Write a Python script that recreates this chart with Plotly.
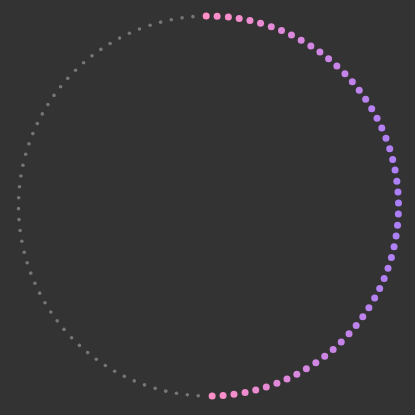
import plotly.graph_objects as go

# Angular positions (degrees, clockwise from top)
filled_theta = [-0.7, 2.6, 6.0, 9.3, 12.6, 15.9, 19.3, 22.6, 25.9, 29.2,
                32.6, 35.9, 39.2, 42.5, 45.9, 49.2, 52.5, 55.8, 59.2, 62.5,
                65.8, 69.1, 72.5, 75.8, 79.1, 82.5, 85.8, 89.1, 92.4, 95.8,
                99.1, 102.4, 105.7, 109.1, 112.4, 115.7, 119.0, 122.4, 125.7, 129.0,
                132.3, 135.7, 139.0, 142.3, 145.6, 149.0, 152.3, 155.6, 158.9, 162.3,
                165.6, 168.9, 172.3, 175.6, 178.9]
empty_theta = [183.1, 186.4, 189.7, 193.0, 196.3, 199.7, 203.0, 206.3, 209.6, 212.9,
               216.2, 219.5, 222.8, 226.1, 229.5, 232.8, 236.1, 239.4, 242.7, 246.0,
               249.3, 252.6, 255.9, 259.3, 262.6, 265.9, 269.2, 272.5, 275.8, 279.1,
               282.4, 285.8, 289.1, 292.4, 295.7, 299.0, 302.3, 305.6, 308.9, 312.2,
               315.6, 318.9, 322.2, 325.5, 328.8, 332.1, 335.4, 338.7, 342.1, 345.4,
               348.7, 352.0, 355.3]
filled_r = [1] * len(filled_theta)
empty_r = [1] * len(empty_theta)

PINK = "#ff8fc6"
PURPLE = "#ab7ff7"
GRAY = "#767676"
BG = "#333333"

colorscale = [[0, PINK], [1 / 6, "#d587df"], [1 / 3, "#b681f1"], [0.5, PURPLE],
              [2 / 3, "#b681f1"], [5 / 6, "#d587df"], [1, PINK]]

fig = go.Figure()
fig.add_trace(go.Scatterpolar(
    r=empty_r, theta=empty_theta, mode="markers", cliponaxis=False,
    marker=dict(size=3.6, color=GRAY), hoverinfo="skip", showlegend=False))
fig.add_trace(go.Scatterpolar(
    r=filled_r, theta=filled_theta, mode="markers", cliponaxis=False,
    marker=dict(size=7, color=filled_theta, cmin=0, cmax=180,
                colorscale=colorscale, showscale=False),
    hoverinfo="skip", showlegend=False))

fig.update_layout(
    width=415, height=415,
    paper_bgcolor=BG, plot_bgcolor=BG,
    margin=dict(l=18, r=16, t=16, b=19),
    polar=dict(
        bgcolor=BG,
        domain=dict(x=[0, 1], y=[0, 1]),
        radialaxis=dict(range=[0, 1], visible=False, showgrid=False),
        angularaxis=dict(rotation=90, direction="clockwise", visible=False,
                         showgrid=False, showline=False, ticks=""),
    ),
)

fig.write_html(
    "out.html",
    config={"displayModeBar": False},
    post_script="document.body.style.margin='0';document.body.style.background='#333333';",
)
